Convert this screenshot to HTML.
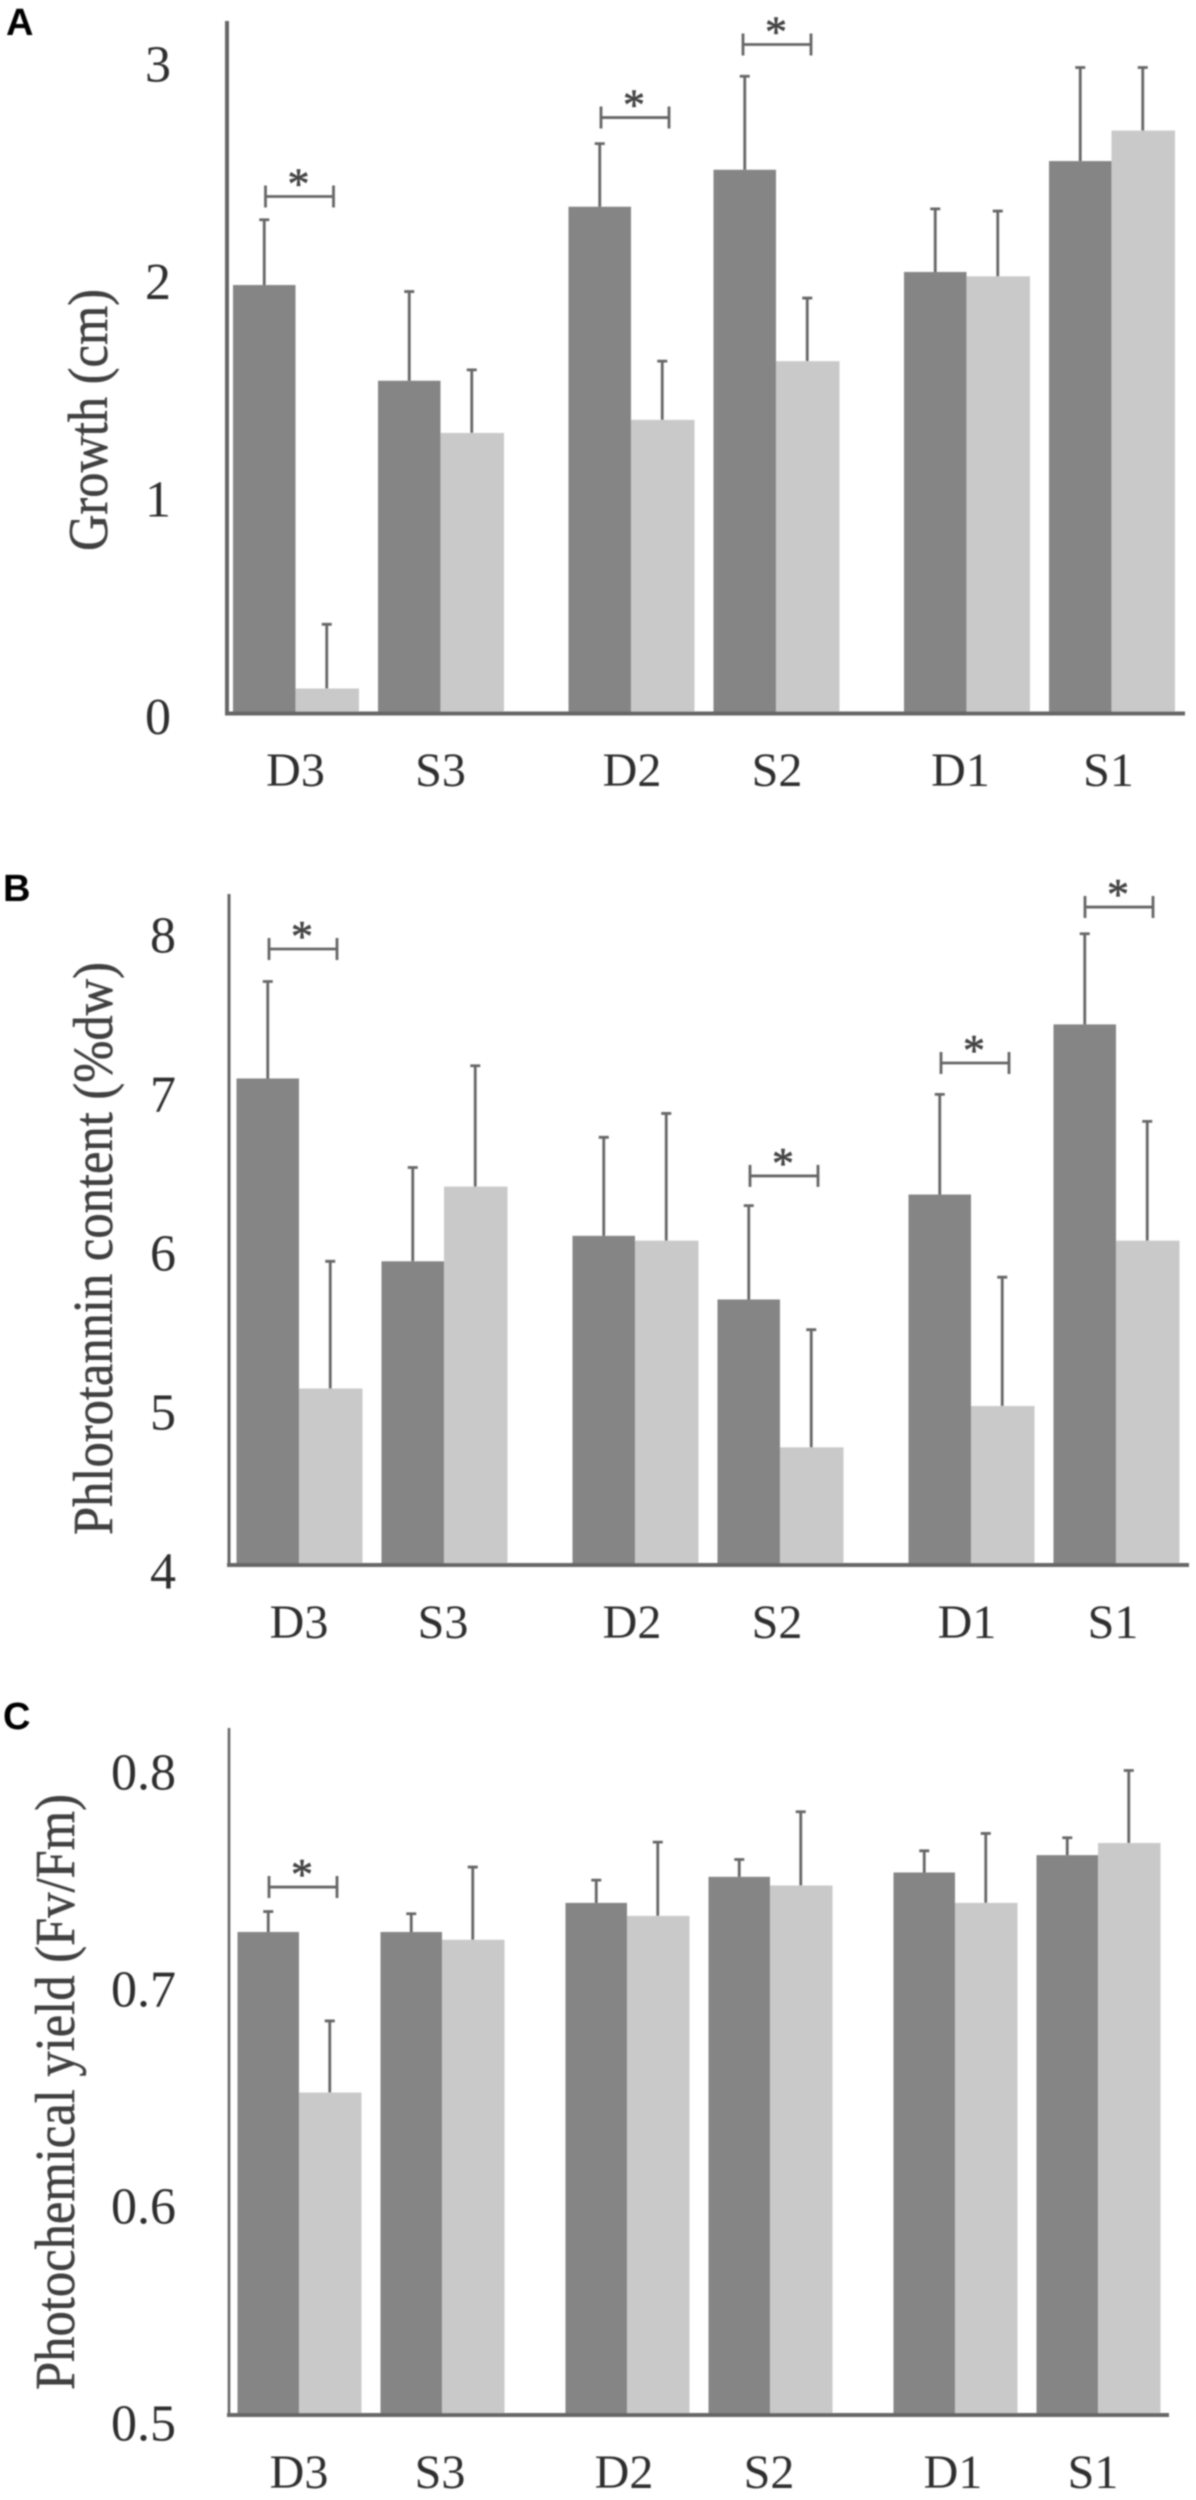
<!DOCTYPE html>
<html lang="en">
<head>
<meta charset="utf-8">
<title>Growth, phlorotannin content and photochemical yield</title>
<style>
html,body{margin:0;padding:0;background:#fff;}
svg{display:block;}
text{font-family:"Liberation Serif",serif;}
.letter{font-family:"Liberation Sans",sans-serif;font-weight:700;fill:#000;}
</style>
</head>
<body>
<svg id="figure" width="1196" height="2500" viewBox="0 0 1196 2500" xmlns="http://www.w3.org/2000/svg">
  <defs><filter id="soft" x="-2%" y="-2%" width="104%" height="104%"><feGaussianBlur stdDeviation="0.7"/></filter></defs>
  <g id="root" filter="url(#soft)"></g>
</svg>
<script>
const categories = ['D3', 'S3', 'D2', 'S2', 'D1', 'S1'];

const aTicks = [0, 1, 2, 3];
const aTickLabels = ['0', '1', '2', '3'];
const aDark = [1.97, 1.53, 2.33, 2.50, 2.03, 2.54];
const aLight = [0.115, 1.29, 1.35, 1.62, 2.01, 2.68];
const aDarkErr = [2.27, 1.94, 2.62, 2.93, 2.32, 2.97];
const aLightErr = [0.41, 1.58, 1.62, 1.91, 2.31, 2.97];
const aSigGroups = [0, 2, 3];
const aSigLevels = [2.377, 2.74, 3.076];

const bTicks = [4, 5, 6, 7, 8];
const bTickLabels = ['4', '5', '6', '7', '8'];
const bDark = [7.06, 5.91, 6.07, 5.67, 6.33, 7.40];
const bLight = [5.11, 6.38, 6.04, 4.74, 5.00, 6.04];
const bDarkErr = [7.67, 6.50, 6.69, 6.26, 6.96, 7.97];
const bLightErr = [5.91, 7.14, 6.84, 5.48, 5.81, 6.79];
const bSigGroups = [0, 3, 4, 5];
const bSigLevels = [7.874, 6.447, 7.157, 8.138];

const cTicks = [0.5, 0.6, 0.7, 0.8];
const cTickLabels = ['0.5', '0.6', '0.7', '0.8'];
const cDark = [0.7226, 0.7226, 0.736, 0.748, 0.750, 0.758];
const cLight = [0.6486, 0.719, 0.730, 0.744, 0.736, 0.7636];
const cDarkErr = [0.732, 0.731, 0.7465, 0.756, 0.760, 0.766];
const cLightErr = [0.6816, 0.7525, 0.764, 0.778, 0.768, 0.797];
const cSigGroups = [0];
const cSigLevels = [0.7433];

const NS = 'http://www.w3.org/2000/svg';
const root = document.getElementById('root');
const DARK = '#858585', LIGHT = '#c9c9c9', AXIS = '#666666', ERR = '#666666', TEXT = '#2e2e2e', TITLE = '#404040';

function mk(parent, tag, attrs, txt) {
  const el = document.createElementNS(NS, tag);
  for (const k in attrs) el.setAttribute(k, attrs[k]);
  if (txt !== undefined) el.textContent = txt;
  parent.appendChild(el);
  return el;
}

function drawPanel(p) {
  const g = mk(root, 'g', {});
  
  

  const y = v => p.baseY - (v - p.vMin) * p.unit;
  const cx = i => p.x0 + i * p.step + Math.floor(i / 2) * p.gap;

  const letter = mk(g, 'text', {class: 'letter', x: p.letterX, y: p.letterY, 'font-size': 38}, p.letter);
  
  

  categories.forEach((cat, i) => {
    const c = cx(i);
    const darkTop = y(p.dark[i]);
    const lightTop = y(p.light[i]);

    const barDark = mk(g, 'rect', {x: c - p.barW, y: darkTop, width: p.barW, height: p.baseY - darkTop, fill: DARK});
    
    

    const barLight = mk(g, 'rect', {x: c, y: lightTop, width: p.barW + 1, height: p.baseY - lightTop, fill: LIGHT});
    
    

    const dx = c - p.barW / 2;
    const lx = c + p.barW / 2;
    const darkErrY = y(p.darkErr[i]);
    const lightErrY = y(p.lightErr[i]);

    const errDark = mk(g, 'path', {d: `M${dx} ${darkTop}V${darkErrY}M${dx - 5} ${darkErrY}H${dx + 5}`, stroke: ERR, 'stroke-width': 2.8, fill: 'none'});
    
    

    const errLight = mk(g, 'path', {d: `M${lx} ${lightTop}V${lightErrY}M${lx - 5} ${lightErrY}H${lx + 5}`, stroke: ERR, 'stroke-width': 2.8, fill: 'none'});
    
    

    const xLabel = mk(g, 'text', {x: c + p.labelDx[i], y: p.labelY, 'font-size': 48, 'text-anchor': 'middle', fill: TEXT}, cat);
    
    
  });

  const yAxis = mk(g, 'line', {x1: p.axisX, x2: p.axisX, y1: p.axisTop, y2: p.baseY + 2, stroke: AXIS, 'stroke-width': p.axisW});
  
  

  const xAxis = mk(g, 'line', {x1: p.axisX - 2, x2: p.axisRight, y1: p.baseY, y2: p.baseY, stroke: AXIS, 'stroke-width': 4});
  
  

  p.ticks.forEach((t, i) => {
    const tick = mk(g, 'text', {x: p.tickX, y: y(t) + p.tickDy + 17.5, 'font-size': 52, 'text-anchor': 'middle', fill: TEXT}, p.tickLabels[i]);
    
    
  });

  const tx = p.titleX, tc = (p.titleTop + p.titleBottom) / 2;
  const title = mk(g, 'text', {
    x: 0, y: 0, 'font-size': 56, 'text-anchor': 'middle', fill: TITLE, stroke: TITLE, 'stroke-width': 0.5,
    textLength: p.titleBottom - p.titleTop, lengthAdjust: 'spacingAndGlyphs',
    transform: `translate(${tx + 19} ${tc}) rotate(-90)`
  }, p.title);
  
  

  p.sigGroups.forEach((grp, i) => {
    const c = cx(grp) + p.sigDx[i];
    const by = y(p.sigLevels[i]);
    const x1 = c - 30, x2 = c + 38;
    const bracket = mk(g, 'path', {d: `M${x1} ${by - 11}V${by + 11}M${x1} ${by}H${x2}M${x2} ${by - 11}V${by + 11}`, stroke: ERR, 'stroke-width': 2.8, fill: 'none'});
    
    

    const star = mk(g, 'text', {x: (x1 + x2) / 2 - 1, y: by + 2, 'font-size': 44, 'text-anchor': 'middle', fill: '#444444', stroke: '#444444', 'stroke-width': 0.6}, '*');
    
    
  });
}

drawPanel({
  id: 'a', letter: 'A', letterX: 6, letterY: 35,
  title: 'Growth (cm)', titleX: 88, titleTop: 289, titleBottom: 551,
  ticks: aTicks, tickLabels: aTickLabels, dark: aDark, light: aLight, darkErr: aDarkErr, lightErr: aLightErr,
  sigGroups: aSigGroups, sigLevels: aSigLevels, sigDx: [0, 0, -3],
  vMin: 0, unit: 217.5, baseY: 713.5, axisX: 227, axisTop: 21, axisRight: 1185, axisW: 4,
  x0: 295.5, step: 145, gap: 45.5, barW: 62.5,
  tickX: 158, tickDy: 3, labelY: 786, labelDx: [0, 0, 1, 1, -6, -3]
});

drawPanel({
  id: 'b', letter: 'B', letterX: 3, letterY: 901,
  title: 'Phlorotannin content (%dw)', titleX: 93, titleTop: 962, titleBottom: 1535,
  ticks: bTicks, tickLabels: bTickLabels, dark: bDark, light: bLight, darkErr: bDarkErr, lightErr: bLightErr,
  sigGroups: bSigGroups, sigLevels: bSigLevels, sigDx: [0, 0, 0, -1],
  vMin: 4, unit: 159, baseY: 1565, axisX: 229, axisTop: 894, axisRight: 1189, axisW: 3,
  x0: 299, step: 145, gap: 46, barW: 62.5,
  tickX: 163, tickDy: 6, labelY: 1638, labelDx: [0, -1, -3, -3, -4, -3]
});

drawPanel({
  id: 'c', letter: 'C', letterX: 3, letterY: 1729,
  title: 'Photochemical yield (Fv/Fm)', titleX: 55, titleTop: 1794, titleBottom: 2390,
  ticks: cTicks, tickLabels: cTickLabels, dark: cDark, light: cLight, darkErr: cDarkErr, lightErr: cLightErr,
  sigGroups: cSigGroups, sigLevels: cSigLevels, sigDx: [0],
  vMin: 0.5, unit: 2170, baseY: 2415, axisX: 229, axisTop: 1728, axisRight: 1169, axisW: 2.6,
  x0: 299, step: 143, gap: 42, barW: 61.5,
  tickX: 143.5, tickDy: 8, labelY: 2488, labelDx: [0, -2, -3, -1, -2, -5]
});
</script>
</body>
</html>
